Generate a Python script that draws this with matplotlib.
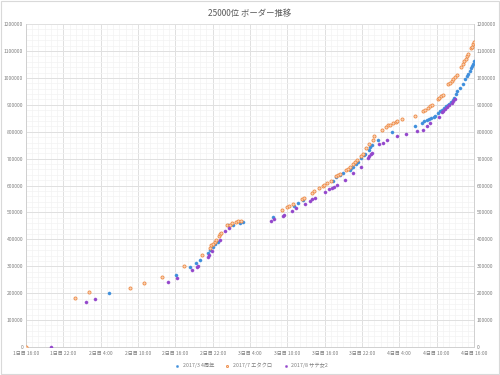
import matplotlib
matplotlib.use("Agg")
import matplotlib.pyplot as plt
from matplotlib.ticker import MultipleLocator, FixedLocator
from matplotlib.patches import Rectangle

plt.rcParams['font.family'] = ['Noto Sans CJK JP', 'DejaVu Sans']

title = "25000位 ボーダー推移"
series_names = ["2017/3 4周年", "2017/7 エタクロ", "2017/8 サテ女2"]
x_tick_labels = ["1日目 16:00", "1日目 22:00", "2日目 4:00", "2日目 10:00", "2日目 16:00",
                 "2日目 22:00", "3日目 4:00", "3日目 10:00", "3日目 16:00", "3日目 22:00",
                 "4日目 4:00", "4日目 10:00", "4日目 16:00"]

# hours elapsed since 1日目 16:00
blue_h = [13.4, 24.1, 26.4, 27.4, 28.0, 29.25, 29.6, 30.1, 30.4, 30.8, 32.5, 33.2, 34.4, 34.9,
          39.7, 43.1, 43.7, 44.5, 49.3, 49.9, 50.4, 51.0, 52.0, 52.3, 52.6, 53.0, 53.3, 53.9,
          54.3, 54.5, 55.1, 55.3, 55.6, 56.6, 58.8, 62.5, 63.7, 64.0, 64.4, 64.8, 65.1, 65.5,
          65.7, 66.2, 66.5, 66.9, 67.2, 67.5, 67.8, 68.0, 68.3, 68.6, 68.8, 69.1, 69.3, 69.8,
          70.2, 70.6, 70.8, 71.1, 71.4, 71.5, 71.7, 71.9, 72.05]
blue_v = [199000, 266700, 298800, 313600, 323500, 350600, 360500, 371600, 384000, 390100,
          453100, 455000, 460500, 465400, 484000, 523400, 535800, 545000, 618500, 630900,
          639500, 645000, 658100, 664200, 670400, 680300, 686400, 701300, 713600, 717300,
          733400, 742000, 749400, 769100, 797400, 819600, 833200, 839400, 843100, 848000,
          850500, 855400, 859200, 869000, 877700, 882600, 888800, 895000, 900000, 904800,
          911000, 917200, 927000, 939400, 952000, 964000, 976800, 995200, 1007500, 1016000,
          1026000, 1036000, 1044500, 1053000, 1063000]

orange_h = [0, 7.9, 10.1, 16.7, 19.0, 21.9, 25.4, 28.3, 29.6, 29.8, 30.05, 30.4, 30.6, 31.0,
            31.2, 31.4, 32.35, 32.8, 33.05, 33.7, 34.0, 34.6, 41.1, 42.0, 42.3, 42.9, 44.4,
            44.6, 45.9, 46.3, 47.1, 47.7, 47.9, 48.3, 49.0, 49.8, 50.15, 50.4, 51.5, 51.7,
            52.1, 52.5, 52.9, 53.25, 53.8, 54.2, 54.7, 55.2, 55.7, 56.0, 57.2, 57.85, 58.2,
            58.5, 59.0, 59.4, 59.6, 60.4, 62.5, 63.85, 64.2, 64.55, 64.9, 65.2, 66.2, 66.4,
            66.7, 67.0, 67.9, 68.1, 68.4, 68.7, 68.9, 69.2, 69.9, 70.2, 70.4, 70.7, 70.9,
            71.1, 71.5, 71.7, 71.9, 72.0]
orange_v = [0, 181000, 204000, 221000, 236000, 261700, 301200, 343200, 367900, 377800,
            384000, 390100, 396300, 411100, 421000, 424700, 451900, 454300, 460500, 463000,
            466700, 469100, 508600, 519700, 522200, 529600, 550600, 554300, 574100, 581500,
            592600, 598800, 602500, 608600, 617300, 634600, 639500, 643200, 656800, 661700,
            667900, 679000, 686400, 693800, 709900, 717300, 739500, 754300, 770000, 784000,
            807000, 818400, 823400, 825800, 832000, 837000, 840600, 845600, 858000, 877700,
            882600, 887600, 895000, 900000, 921000, 927000, 932000, 937000, 976500, 982600,
            988800, 997400, 1004800, 1009800, 1040000, 1052000, 1063000, 1072000, 1081000,
            1088000, 1110000, 1116000, 1125000, 1135000]

purple_h = [4.0, 9.6, 11.1, 22.8, 24.3, 26.6, 27.5, 27.7, 29.3, 29.4, 29.9, 31.1, 32.0, 32.7,
            39.3, 39.9, 41.3, 41.5, 42.7, 43.4, 44.8, 45.65, 46.0, 46.4, 48.1, 48.75, 49.2,
            49.5, 50.0, 51.3, 52.55, 53.8, 54.9, 55.2, 55.4, 55.55, 56.7, 57.3, 58.0, 59.7,
            61.1, 62.9, 63.75, 64.4, 64.9, 66.3, 66.8, 67.0, 67.4, 67.7, 68.0, 68.4, 68.7, 68.9]
purple_v = [0, 169000, 178000, 240700, 256800, 285200, 298800, 301200, 334600, 343200,
            356800, 396300, 432100, 440800, 468000, 475300, 487600, 490100, 505000, 516000,
            530800, 544400, 549400, 553100, 577800, 586400, 591300, 595100, 603700, 621000,
            645700, 670400, 703700, 711200, 717300, 721000, 754300, 759300, 767900, 782600,
            791300, 803600, 807300, 822100, 832000, 855500, 871500, 877900, 884000, 892600,
            900000, 908600, 915000, 923400]

fig = plt.figure(figsize=(5, 3.75), dpi=100)
fig.patches.append(Rectangle((0.002, 0.003), 0.996, 0.994, transform=fig.transFigure,
                             fill=False, edgecolor='#d9d9d9', linewidth=0.8))
ax = fig.add_axes([0.052, 0.0747, 0.896, 0.861])

text_col = '#7f7f7f'
ax.scatter(blue_h, blue_v, s=5, color='#3f8fdc', edgecolors='#3f8fdc', linewidths=0.3,
           zorder=3, label=series_names[0])
ax.scatter(orange_h, orange_v, s=5, color='#f8d2b4', edgecolors='#ee8a45', linewidths=0.6,
           zorder=3, label=series_names[1])
ax.scatter(purple_h, purple_v, s=5, color='#9448cc', edgecolors='#9448cc', linewidths=0.3,
           zorder=3, label=series_names[2])

ax.set_xlim(0, 72)
ax.set_ylim(0, 1200000)
ax.xaxis.set_major_locator(FixedLocator(range(0, 73, 6)))
ax.set_xticklabels(x_tick_labels)
ax.xaxis.set_minor_locator(MultipleLocator(1))
ax.yaxis.set_major_locator(MultipleLocator(100000))
ax.yaxis.set_minor_locator(MultipleLocator(20000))
ax.ticklabel_format(axis='y', style='plain', useOffset=False)

ax.grid(True, which='major', color='#e0e0e0', linewidth=0.7, zorder=0)
ax.grid(True, which='minor', color='#f3f3f3', linewidth=0.5, zorder=0)
ax.set_axisbelow(True)

ax.tick_params(axis='both', which='both', length=0, labelsize=3.6, colors=text_col)
ax.tick_params(axis='y', labelright=True, pad=2)
ax.tick_params(axis='x', pad=3)
ax.spines['top'].set_visible(False)
for s in ['left', 'right', 'bottom']:
    ax.spines[s].set_color('#d0d0d0')
    ax.spines[s].set_linewidth(0.7)

fig.text(0.5, 0.965, title, ha='center', va='center', fontsize=6, color='#595959')

fig.legend(loc='center', bbox_to_anchor=(0.5, 0.025), ncol=3, frameon=False,
           fontsize=3.8, markerscale=0.7, handletextpad=0.1, columnspacing=1.5,
           labelcolor=text_col)

fig.savefig('out.png', dpi=100, facecolor='white')
